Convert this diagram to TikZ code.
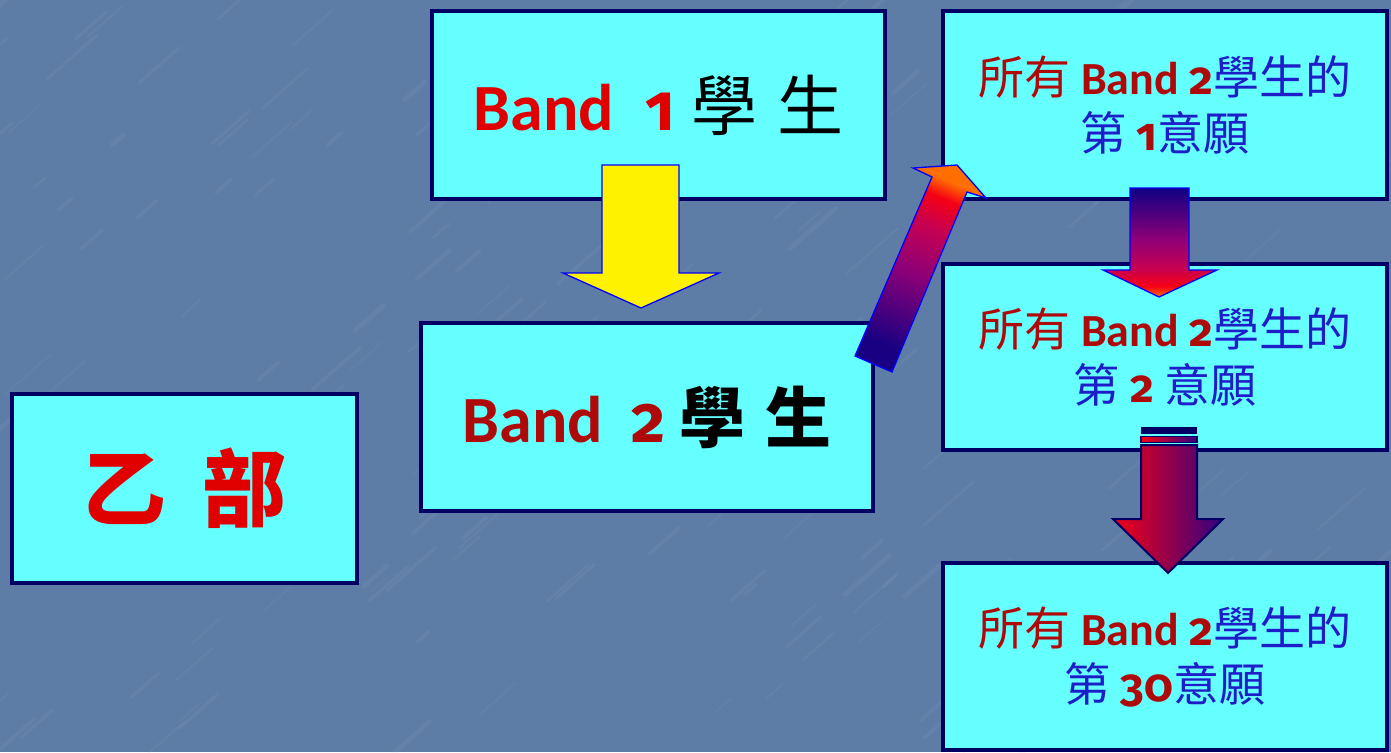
\documentclass[tikz,border=0pt]{standalone}
\usepackage{fontspec}
\setmainfont{Carlito}
\newfontfamily\lat{Carlito}
\newfontfamily\oldnum[Numbers=OldStyle]{Fira Sans}
\newfontfamily\cjk{Noto Sans CJK TC}
\usetikzlibrary{calc}
\definecolor{bg}{RGB}{94,125,166}
\definecolor{bglight}{RGB}{150,175,210}
\definecolor{cyanbox}{RGB}{102,255,255}
\definecolor{navyb}{RGB}{0,0,100}
\definecolor{bred}{RGB}{225,0,0}
\definecolor{dred}{RGB}{175,10,10}
\definecolor{cblue}{RGB}{30,30,200}
\definecolor{anavy}{RGB}{25,0,130}
\definecolor{apurp}{RGB}{140,0,120}
\definecolor{acrim}{RGB}{200,0,80}
\definecolor{ared}{RGB}{245,0,20}
\definecolor{aorange}{RGB}{255,110,0}
\definecolor{aindigo}{RGB}{50,0,130}
\pgfdeclareverticalshading{upgrad}{100bp}{color(0bp)=(anavy); color(27bp)=(anavy); color(48bp)=(apurp); color(62bp)=(acrim); color(70bp)=(ared); color(75bp)=(aorange); color(100bp)=(aorange)}
\tikzset{
  box/.style={draw=navyb, line width=4pt, fill=cyanbox, inner sep=0pt, align=center},
  blockarrow/.style={draw=blue, line width=1.3pt, line join=miter},
  bigtext/.style={font=\fontsize{66}{70}\selectfont},
  smalltext/.style={font=\fontsize{46}{56}\selectfont},
}
\begin{document}
\begin{tikzpicture}[x=1pt,y=-1pt]
\useasboundingbox (0,0) rectangle (1391,752);
\fill[bg] (0,0) rectangle (1391,752);
% faint marble texture
\pgfmathsetseed{11}
\foreach \i in {1,...,220}{
  \pgfmathsetmacro{\xa}{rnd*1450-30}
  \pgfmathsetmacro{\ya}{rnd*800-20}
  \pgfmathsetmacro{\ln}{15+rnd*55}
  \pgfmathsetmacro{\lw}{1+rnd*4}
  \draw[bglight, opacity=0.09, line width=\lw pt, line cap=round] (\xa,\ya) -- ++(\ln*0.75,-\ln*0.66);
}
% boxes
\node[box, bigtext, minimum width=453pt, minimum height=188pt] (b1) at (658.5,105)
  {{\lat\bfseries\color{bred}Band\hspace{32pt}{\oldnum 1}}\hspace{16pt}{\cjk\color{black}學\hspace{20pt}生}};
\node[box, bigtext, minimum width=452pt, minimum height=188pt] (b2) at (647,417)
  {{\lat\bfseries\color{dred}Band\hspace{28pt}{\oldnum 2}}\hspace{14pt}{\cjk\bfseries\color{black}學\hspace{20pt}生}};
\node[box, font=\fontsize{84}{90}\selectfont, minimum width=345pt, minimum height=189pt] (yibu) at (184.5,488.5)
  {{\cjk\bfseries\color{bred}乙\hspace{36pt}部}};
\node[box, smalltext, minimum width=444pt, minimum height=188pt] (r1) at (1165,105)
  {{\cjk\color{dred}所有} {\lat\bfseries\color{dred}Band {\oldnum 2}}{\cjk\color{cblue}學生的}\\{\cjk\color{cblue}第} {\oldnum\bfseries\color{dred}1}{\cjk\color{cblue}意願}};
\node[box, smalltext, minimum width=444pt, minimum height=186pt] (r2) at (1165,357)
  {{\cjk\color{dred}所有} {\lat\bfseries\color{dred}Band {\oldnum 2}}{\cjk\color{cblue}學生的}\\{\cjk\color{cblue}第} {\oldnum\bfseries\color{dred}2} {\cjk\color{cblue}意願}};
\node[box, smalltext, minimum width=444pt, minimum height=187pt] (r3) at (1165,656.5)
  {{\cjk\color{dred}所有} {\lat\bfseries\color{dred}Band {\oldnum 2}}{\cjk\color{cblue}學生的}\\{\cjk\color{cblue}第} {\oldnum\bfseries\color{dred}30}{\cjk\color{cblue}意願}};
% yellow arrow b1 -> b2
\draw[blockarrow, fill=yellow] (602,165) -- (679,165) -- (679,273) -- (719,273) -- (641,308) -- (563,273) -- (602,273) -- cycle;
% diagonal arrow b2 -> r1
\draw[blockarrow, shading=upgrad, shading angle=-23] (855,356) -- (932,177) -- (913,168) -- (957,165) -- (986,198) -- (967,192) -- (892,372) -- cycle;
% arrow r1 -> r2
\draw[blockarrow, shading=upgrad, shading angle=180] (1130,188) -- (1189,188) -- (1189,270) -- (1217,270) -- (1159,297) -- (1103,270) -- (1130,270) -- cycle;
% arrow r2 -> r3
\fill[navyb] (1141,427) rectangle (1197,434);
\draw[navyb, line width=1.5pt, left color=ared, middle color=acrim, right color=aindigo] (1141,436.5) rectangle (1197,442.5);
\draw[navyb, line width=2pt, line join=miter, left color=ared, middle color=acrim, right color=aindigo] (1141,445) -- (1197,445) -- (1197,519) -- (1223,519) -- (1168,573) -- (1113,519) -- (1141,519) -- cycle;
\end{tikzpicture}
\end{document}
